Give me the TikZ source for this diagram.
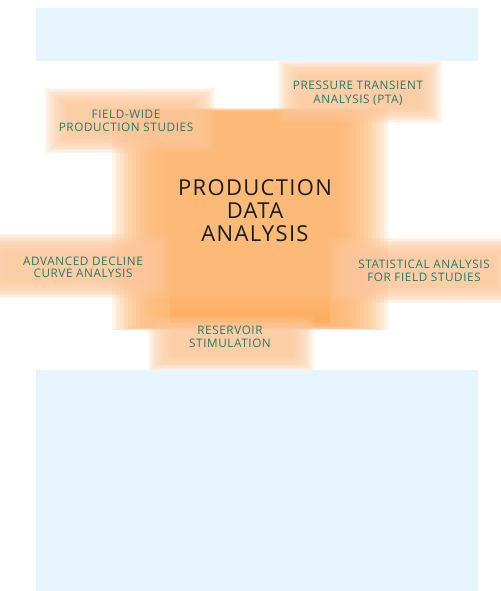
\documentclass[tikz,border=0pt]{standalone}
\usepackage{fontspec}
\setmainfont{Open Sans}
\newfontfamily\labelfont[LetterSpace=5]{Open Sans}
\newfontfamily\titlefont[LetterSpace=6]{Open Sans}

\definecolor{panelblue}{HTML}{E6F5FD}
\definecolor{coreorange}{HTML}{FDB26A}
\definecolor{bandorange}{HTML}{FFA040}
\definecolor{tagorange}{HTML}{FCC89C}
\definecolor{tagtext}{HTML}{2E7566}
\definecolor{titleink}{HTML}{1C1C1C}

% soft-edged rectangle: x1 y1 x2 y2, inset per layer dx dy, colour, layers
\newcommand{\glowrect}[8]{%
  \foreach \k in {1,...,#8}{%
    \fill[#7, fill opacity=0.16]
      ({#1+(\k-1)*#5},{#2+(\k-1)*#6}) rectangle ({#3-(\k-1)*#5},{#4-(\k-1)*#6});
  }%
}

\tikzset{
  tag/.style={text=tagtext, align=center, inner sep=0pt,
    font=\labelfont\fontsize{8.8}{9.75}\selectfont},
  title/.style={text=titleink, align=center, inner sep=0pt,
    font=\titlefont\fontsize{16.5}{17.25}\selectfont},
}

\begin{document}
\begin{tikzpicture}[x=0.75pt, y=-0.75pt]
  \useasboundingbox (0,0) rectangle (500,591);

  % central block with soft left and right edges
  \glowrect{112}{108}{388}{330}{4}{0.3}{coreorange}{14}
  \shade[top color=coreorange, bottom color=bandorange, opacity=0.45]
    (170,296) rectangle (330,322);

  % soft tag panels
  \glowrect{45}{88}{215}{153}{2}{1.4}{tagorange}{13}
  \glowrect{278}{60}{442}{123}{2}{1.4}{tagorange}{13}
  \glowrect{-20}{234}{170}{298}{2}{1.4}{tagorange}{13}
  \glowrect{328}{238}{520}{303}{2}{1.4}{tagorange}{13}
  \glowrect{148}{316}{314}{372}{2}{1.4}{tagorange}{13}

  % plain panels above and below
  \fill[panelblue] (36,8) rectangle (478,61);
  \fill[panelblue] (36,370) rectangle (478,591);

  % texts
  \node[title] (pda) at (255,211) {PRODUCTION\\DATA\\ANALYSIS};
  \node[tag] (fw)  at (126,121) {FIELD-WIDE\\PRODUCTION STUDIES};
  \node[tag, font=\labelfont\fontsize{8.8}{10.5}\selectfont] (pta) at (358,93) {PRESSURE TRANSIENT\\ANALYSIS (PTA)};
  \node[tag, font=\labelfont\fontsize{8.8}{9}\selectfont] (adc) at (83,267) {ADVANCED DECLINE\\CURVE ANALYSIS};
  \node[tag] (sfs) at (424,271) {STATISTICAL ANALYSIS\\FOR FIELD STUDIES};
  \node[tag] (rs)  at (230,337) {RESERVOIR\\STIMULATION};
\end{tikzpicture}
\end{document}
